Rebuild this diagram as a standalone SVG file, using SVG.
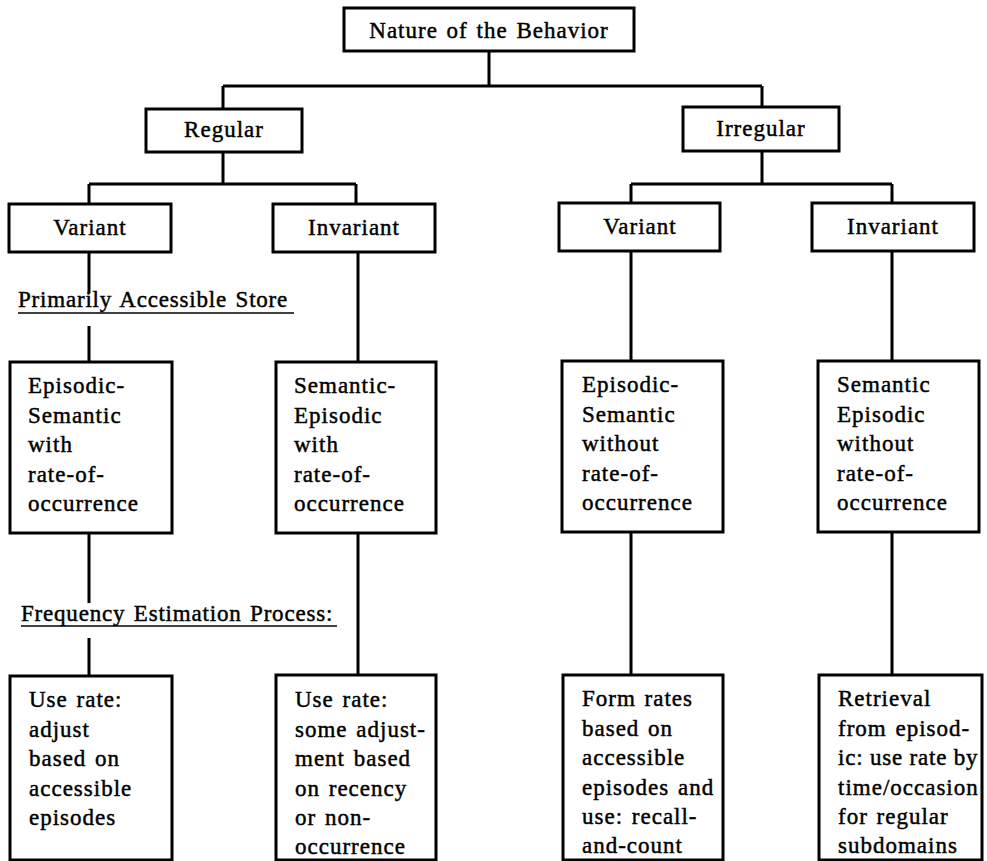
<svg xmlns="http://www.w3.org/2000/svg" width="987" height="861" viewBox="0 0 987 861" font-family="'Liberation Serif', 'DejaVu Serif', serif">
  <style>
    .box { fill: #fff; stroke: #000; stroke-width: 3; }
    .link { fill: none; stroke: #000; stroke-width: 3; }
    .rule { stroke: #000; stroke-width: 1.5; }
    text { font-family: 'Liberation Serif', 'DejaVu Serif', serif; font-size: 23px; letter-spacing: 1px; word-spacing: 2px; fill: #000; stroke: #000; stroke-width: 0.45px; }
    .c { text-anchor: middle; }
    .cap { letter-spacing: 0.8px; }
    .tight { letter-spacing: 0.8px; word-spacing: 0; }
  </style>
  <rect width="987" height="861" fill="#fff"/>

  <!-- connectors -->
  <g id="connectors">
    <path class="link" d="M489 51 V86 M223 86 H762 M223 86 V109 M762 86 V107"/>
    <path class="link" d="M223 152 V184 M89 184 H356 M89 184 V204 M356 184 V204"/>
    <path class="link" d="M762 151 V184 M631 184 H892 M631 184 V203 M892 184 V203"/>
    <path class="link" d="M89 252 V293 M89 326 V362 M358 252 V362 M631 251 V361 M892 251 V361"/>
    <path class="link" d="M89 533 V603 M89 638 V676 M358 533 V675 M631 532 V675 M892 532 V675"/>
  </g>

  <!-- section captions -->
  <g id="caption-store">
    <text class="cap" x="18" y="307">Primarily Accessible Store</text>
    <line class="rule" x1="18" y1="313" x2="294" y2="313"/>
  </g>
  <g id="caption-process">
    <text class="cap" x="21" y="621">Frequency Estimation Process:</text>
    <line class="rule" x1="21" y1="626" x2="337" y2="626"/>
  </g>

  <!-- root -->
  <g id="nature">
    <rect class="box" x="344" y="8" width="290" height="43"/>
    <text class="c" x="489" y="38">Nature of the Behavior</text>
  </g>

  <!-- second level -->
  <g id="regular">
    <rect class="box" x="146" y="109" width="156" height="43"/>
    <text class="c" x="224" y="137">Regular</text>
  </g>
  <g id="irregular">
    <rect class="box" x="683" y="107" width="156" height="44"/>
    <text class="c" x="761" y="136">Irregular</text>
  </g>

  <!-- third level -->
  <g id="regular-variant">
    <rect class="box" x="9" y="204" width="162" height="48"/>
    <text class="c" x="90" y="235">Variant</text>
  </g>
  <g id="regular-invariant">
    <rect class="box" x="273" y="204" width="162" height="48"/>
    <text class="c" x="354" y="235">Invariant</text>
  </g>
  <g id="irregular-variant">
    <rect class="box" x="559" y="203" width="161" height="48"/>
    <text class="c" x="640" y="234">Variant</text>
  </g>
  <g id="irregular-invariant">
    <rect class="box" x="812" y="203" width="162" height="48"/>
    <text class="c" x="893" y="234">Invariant</text>
  </g>

  <!-- stores -->
  <g id="store-1">
    <rect class="box" x="10" y="362" width="162" height="171"/>
    <text x="28" y="393">Episodic-</text>
    <text x="28" y="422.5">Semantic</text>
    <text x="28" y="452">with</text>
    <text x="28" y="481.5">rate-of-</text>
    <text x="28" y="511">occurrence</text>
  </g>
  <g id="store-2">
    <rect class="box" x="276" y="362" width="160" height="171"/>
    <text x="294" y="393">Semantic-</text>
    <text x="294" y="422.5">Episodic</text>
    <text x="294" y="452">with</text>
    <text x="294" y="481.5">rate-of-</text>
    <text x="294" y="511">occurrence</text>
  </g>
  <g id="store-3">
    <rect class="box" x="562" y="361" width="161" height="171"/>
    <text x="582" y="392">Episodic-</text>
    <text x="582" y="421.5">Semantic</text>
    <text x="582" y="451">without</text>
    <text x="582" y="480.5">rate-of-</text>
    <text x="582" y="510">occurrence</text>
  </g>
  <g id="store-4">
    <rect class="box" x="818" y="361" width="161" height="171"/>
    <text x="837" y="392">Semantic</text>
    <text x="837" y="421.5">Episodic</text>
    <text x="837" y="451">without</text>
    <text x="837" y="480.5">rate-of-</text>
    <text x="837" y="510">occurrence</text>
  </g>

  <!-- estimation processes -->
  <g id="process-1">
    <rect class="box" x="10" y="676" width="162" height="184"/>
    <text x="29" y="707">Use rate:</text>
    <text x="29" y="736.5">adjust</text>
    <text x="29" y="766">based on</text>
    <text x="29" y="795.5">accessible</text>
    <text x="29" y="825">episodes</text>
  </g>
  <g id="process-2">
    <rect class="box" x="276" y="675" width="160" height="185"/>
    <text x="295" y="707">Use rate:</text>
    <text x="295" y="736.5">some adjust-</text>
    <text x="295" y="766">ment based</text>
    <text x="295" y="795.5">on recency</text>
    <text x="295" y="825">or non-</text>
    <text x="295" y="854">occurrence</text>
  </g>
  <g id="process-3">
    <rect class="box" x="563" y="675" width="160" height="185"/>
    <text x="582" y="706">Form rates</text>
    <text x="582" y="735.5">based on</text>
    <text x="582" y="765">accessible</text>
    <text x="582" y="794.5">episodes and</text>
    <text x="582" y="824">use: recall-</text>
    <text x="582" y="853">and-count</text>
  </g>
  <g id="process-4">
    <rect class="box" x="819" y="675" width="163" height="185"/>
    <text x="838" y="706">Retrieval</text>
    <text x="838" y="735.5">from episod-</text>
    <text class="tight" x="838" y="765">ic: use rate by</text>
    <text x="838" y="794.5">time/occasion</text>
    <text x="838" y="824">for regular</text>
    <text x="838" y="853">subdomains</text>
  </g>
</svg>
